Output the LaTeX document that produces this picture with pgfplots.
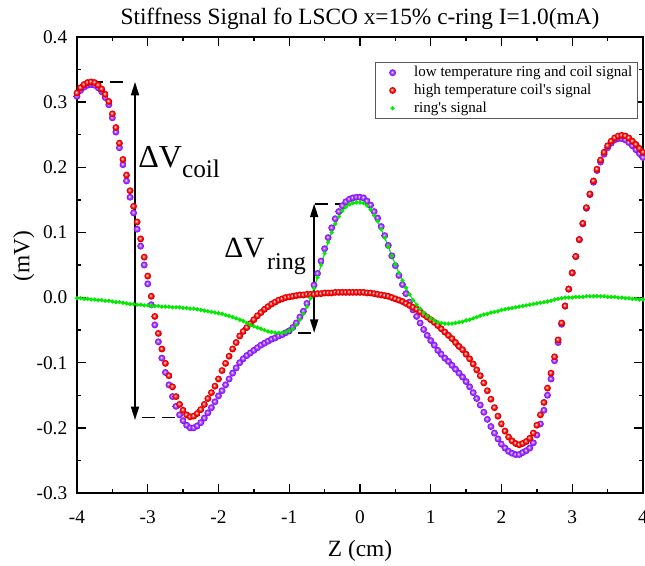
\documentclass[border=0pt]{standalone}
\usepackage{fontspec}
\setmainfont{Liberation Serif}
\usepackage{pgfplots}
\pgfplotsset{compat=1.18}
\usepackage{pgfplotstable}
\usetikzlibrary{arrows.meta}

\definecolor{lowT}{RGB}{140,20,255}
\definecolor{highT}{RGB}{255,0,0}
\definecolor{ringc}{RGB}{0,235,0}

% shaded balls, lighter than the stock ball shading
\pgfdeclareradialshading{ballred}{\pgfpoint{-7bp}{7bp}}{color(0bp)=(white); color(6bp)=(highT!45!white); color(14bp)=(highT); color(25bp)=(highT!80!black); color(50bp)=(highT!80!black)}
\pgfdeclareradialshading{ballviolet}{\pgfpoint{-6bp}{6bp}}{color(0bp)=(white); color(5bp)=(lowT!45!white); color(12bp)=(lowT!80!white); color(20bp)=(lowT); color(25bp)=(lowT!85!black); color(50bp)=(lowT!85!black)}
\pgfdeclareplotmark{redball}{\pgfpathcircle{\pgfpointorigin}{\pgfplotmarksize}\pgfshadepath{ballred}{0}\pgfusepath{discard}}
\pgfdeclareplotmark{violetball}{\pgfpathcircle{\pgfpointorigin}{\pgfplotmarksize}\pgfshadepath{ballviolet}{0}\pgfusepath{discard}}

% z (cm), low temperature (ring+coil), high temperature (coil), ring
\pgfplotstableread{
z low high ring
-4.00 0.309 0.314 -0.001
-3.95 0.318 0.322 -0.001
-3.90 0.323 0.327 -0.002
-3.85 0.326 0.330 -0.002
-3.80 0.327 0.331 -0.003
-3.75 0.326 0.330 -0.003
-3.70 0.322 0.326 -0.004
-3.65 0.316 0.320 -0.004
-3.60 0.307 0.312 -0.005
-3.55 0.296 0.301 -0.005
-3.50 0.276 0.282 -0.006
-3.45 0.254 0.261 -0.007
-3.40 0.230 0.237 -0.007
-3.35 0.204 0.212 -0.008
-3.30 0.179 0.188 -0.009
-3.25 0.154 0.164 -0.010
-3.20 0.130 0.140 -0.010
-3.15 0.105 0.116 -0.011
-3.10 0.079 0.090 -0.011
-3.05 0.050 0.062 -0.012
-3.00 0.021 0.033 -0.012
-2.95 -0.011 0.002 -0.013
-2.90 -0.042 -0.029 -0.013
-2.85 -0.068 -0.055 -0.013
-2.80 -0.093 -0.079 -0.014
-2.75 -0.115 -0.101 -0.014
-2.70 -0.134 -0.120 -0.014
-2.65 -0.152 -0.137 -0.015
-2.60 -0.167 -0.152 -0.015
-2.55 -0.180 -0.164 -0.015
-2.50 -0.189 -0.173 -0.016
-2.45 -0.196 -0.180 -0.016
-2.40 -0.200 -0.183 -0.017
-2.35 -0.200 -0.182 -0.017
-2.30 -0.197 -0.178 -0.018
-2.25 -0.192 -0.172 -0.019
-2.20 -0.185 -0.164 -0.020
-2.15 -0.177 -0.155 -0.021
-2.10 -0.169 -0.146 -0.022
-2.05 -0.160 -0.136 -0.023
-2.00 -0.151 -0.125 -0.024
-1.95 -0.143 -0.112 -0.025
-1.90 -0.134 -0.101 -0.027
-1.85 -0.125 -0.090 -0.028
-1.80 -0.116 -0.079 -0.030
-1.75 -0.108 -0.069 -0.032
-1.70 -0.100 -0.059 -0.034
-1.65 -0.094 -0.052 -0.036
-1.60 -0.089 -0.046 -0.039
-1.55 -0.085 -0.040 -0.042
-1.50 -0.081 -0.034 -0.044
-1.45 -0.077 -0.028 -0.046
-1.40 -0.073 -0.023 -0.048
-1.35 -0.070 -0.018 -0.050
-1.30 -0.067 -0.014 -0.052
-1.25 -0.064 -0.010 -0.053
-1.20 -0.062 -0.007 -0.054
-1.15 -0.059 -0.004 -0.054
-1.10 -0.057 -0.002 -0.054
-1.05 -0.054 0.000 -0.053
-1.00 -0.051 0.001 -0.051
-0.95 -0.046 0.002 -0.048
-0.90 -0.039 0.003 -0.042
-0.85 -0.030 0.004 -0.034
-0.80 -0.021 0.004 -0.025
-0.75 -0.009 0.005 -0.014
-0.70 0.004 0.005 -0.001
-0.65 0.019 0.005 0.014
-0.60 0.037 0.006 0.031
-0.55 0.056 0.006 0.050
-0.50 0.075 0.007 0.068
-0.45 0.092 0.007 0.085
-0.40 0.107 0.007 0.100
-0.35 0.121 0.008 0.113
-0.30 0.132 0.008 0.124
-0.25 0.141 0.008 0.133
-0.20 0.147 0.008 0.139
-0.15 0.151 0.008 0.143
-0.10 0.153 0.008 0.145
-0.05 0.154 0.008 0.146
0.00 0.154 0.008 0.146
0.05 0.153 0.008 0.145
0.10 0.148 0.007 0.141
0.15 0.142 0.007 0.135
0.20 0.132 0.006 0.126
0.25 0.122 0.005 0.117
0.30 0.109 0.004 0.105
0.35 0.095 0.003 0.092
0.40 0.080 0.002 0.078
0.45 0.064 0.000 0.064
0.50 0.049 -0.002 0.051
0.55 0.034 -0.004 0.038
0.60 0.020 -0.006 0.026
0.65 0.006 -0.009 0.015
0.70 -0.007 -0.012 0.005
0.75 -0.019 -0.015 -0.004
0.80 -0.029 -0.018 -0.011
0.85 -0.039 -0.022 -0.017
0.90 -0.049 -0.026 -0.023
0.95 -0.058 -0.030 -0.028
1.00 -0.066 -0.034 -0.032
1.05 -0.073 -0.038 -0.035
1.10 -0.081 -0.043 -0.038
1.15 -0.087 -0.048 -0.039
1.20 -0.093 -0.053 -0.040
1.25 -0.098 -0.058 -0.040
1.30 -0.104 -0.063 -0.040
1.35 -0.110 -0.069 -0.039
1.40 -0.116 -0.075 -0.038
1.45 -0.122 -0.080 -0.037
1.50 -0.129 -0.087 -0.035
1.55 -0.137 -0.094 -0.034
1.60 -0.146 -0.102 -0.032
1.65 -0.155 -0.111 -0.030
1.70 -0.165 -0.120 -0.028
1.75 -0.176 -0.131 -0.026
1.80 -0.187 -0.143 -0.025
1.85 -0.198 -0.156 -0.023
1.90 -0.208 -0.169 -0.022
1.95 -0.217 -0.182 -0.021
2.00 -0.225 -0.194 -0.019
2.05 -0.231 -0.205 -0.018
2.10 -0.236 -0.214 -0.017
2.15 -0.239 -0.220 -0.016
2.20 -0.241 -0.224 -0.015
2.25 -0.241 -0.226 -0.014
2.30 -0.238 -0.224 -0.013
2.35 -0.235 -0.221 -0.012
2.40 -0.231 -0.216 -0.011
2.45 -0.223 -0.208 -0.010
2.50 -0.211 -0.196 -0.009
2.55 -0.194 -0.180 -0.008
2.60 -0.173 -0.161 -0.007
2.65 -0.150 -0.139 -0.006
2.70 -0.125 -0.116 -0.005
2.75 -0.097 -0.091 -0.003
2.80 -0.069 -0.065 -0.002
2.85 -0.041 -0.039 -0.001
2.90 -0.013 -0.013 0.000
2.95 0.013 0.013 0.000
3.00 0.038 0.038 0.000
3.05 0.063 0.063 0.001
3.10 0.089 0.089 0.001
3.15 0.113 0.114 0.001
3.20 0.137 0.138 0.002
3.25 0.158 0.159 0.002
3.30 0.177 0.179 0.002
3.35 0.195 0.197 0.002
3.40 0.208 0.211 0.002
3.45 0.220 0.223 0.002
3.50 0.230 0.233 0.001
3.55 0.237 0.240 0.001
3.60 0.242 0.245 0.001
3.65 0.244 0.248 0.000
3.70 0.244 0.249 0.000
3.75 0.242 0.248 -0.001
3.80 0.238 0.245 -0.001
3.85 0.233 0.240 -0.002
3.90 0.227 0.235 -0.002
3.95 0.221 0.229 -0.003
4.00 0.215 0.223 -0.003
}\signal

\begin{document}
\begin{tikzpicture}
\begin{axis}[
    scale only axis,
    width=424.5pt, height=342pt,
    xmin=-4, xmax=4, ymin=-0.3, ymax=0.4,
    xtick={-4,-3,-2,-1,0,1,2,3,4},
    ytick={-0.3,-0.2,-0.1,0,0.1,0.2,0.3,0.4},
    minor x tick num=1, minor y tick num=1,
    tick align=inside, xtick pos=both, ytick pos=both,
    major tick length=6.5pt, minor tick length=3.2pt,
    every tick/.style={black, line width=1pt},
    axis line style={line width=1.2pt},
    /pgf/number format/assume math mode=true,
    ticklabel style={font=\fontsize{14.5}{17}\selectfont},
    xticklabel style={yshift=-10pt},
    yticklabel style={xshift=-3.8pt, /pgf/number format/.cd, fixed, fixed zerofill, precision=1},
    title={Stiffness Signal fo LSCO x=15\% c-ring I=1.0(mA)},
    title style={font=\fontsize{17.5}{20}\selectfont, at={(0.5,1)}, anchor=south, yshift=-4pt},
    xlabel={Z (cm)},
    ylabel={(mV)},
    label style={font=\fontsize{17.5}{20}\selectfont},
    xlabel style={at={(axis description cs:0.5,-0.127)}, anchor=center},
    ylabel style={at={(axis description cs:-0.094,0.52)}, anchor=center},
    legend style={at={(0.991,0.945)}, anchor=north east, draw=black!65, line width=0.6pt,
        font=\fontsize{11.3}{13}\selectfont, inner xsep=2.5pt, inner ysep=1.5pt,
        nodes={inner sep=1.5pt}, row sep=1pt},
    legend cell align=left,
    legend image code/.code={\path (0cm,0cm) (0.85cm,0cm);
        \draw[#1] plot coordinates {(0.35cm,0cm)};},
]

\addplot[only marks, mark=violetball, mark size=2.6pt]
    table[x=z, y=low] {\signal};
\addlegendentry{low temperature ring and coil signal}

\addplot[only marks, mark=redball, mark size=2.6pt]
    table[x=z, y=high] {\signal};
\addlegendentry{high temperature coil\textquotesingle s signal}

\addplot[ringc, line width=0.9pt, mark=*, mark size=1.1pt]
    table[x=z, y=ring] {\signal};
\addlegendentry{ring\textquotesingle s signal}

% Delta V coil
\draw[line width=1.2pt, {Triangle[length=10pt,width=6pt]}-{Triangle[length=10pt,width=6pt]}]
    (axis cs:-3.18,0.331) -- (axis cs:-3.18,-0.188);
\draw[line width=1.3pt, dash pattern=on 10pt off 5pt]
    (axis cs:-3.82,0.331) -- (axis cs:-3.353,0.331);
\draw[line width=1.3pt, dash pattern=on 10pt off 5pt]
    (axis cs:-3.08,-0.184) -- (axis cs:-2.613,-0.184);
\node[anchor=base west, inner sep=0pt] at (axis cs:-3.137,0.200)
    {\fontsize{24}{24}\selectfont ΔV\fontsize{19}{19}\selectfont\raisebox{-7.5pt}{coil}};

% Delta V ring
\draw[line width=1.2pt, {Triangle[length=10pt,width=6pt]}-{Triangle[length=10pt,width=6pt]}]
    (axis cs:-0.648,0.144) -- (axis cs:-0.648,-0.054);
\draw[line width=1.3pt, dash pattern=on 10pt off 5pt]
    (axis cs:-0.634,0.144) -- (axis cs:-0.167,0.144);
\draw[line width=1.3pt, dash pattern=on 10pt off 5pt]
    (axis cs:-1.157,-0.054) -- (axis cs:-0.69,-0.054);
\node[anchor=base west, inner sep=0pt] at (axis cs:-1.92,0.061)
    {\fontsize{22}{22}\selectfont ΔV\hspace{2pt}\fontsize{18}{18}\selectfont\raisebox{-9pt}{ring}};
\end{axis}
\pgfresetboundingbox
\path ([xshift=-57.75pt,yshift=-54.75pt]current axis.south west)
    rectangle ([xshift=1.5pt,yshift=27.75pt]current axis.north east);
\end{tikzpicture}
\end{document}
